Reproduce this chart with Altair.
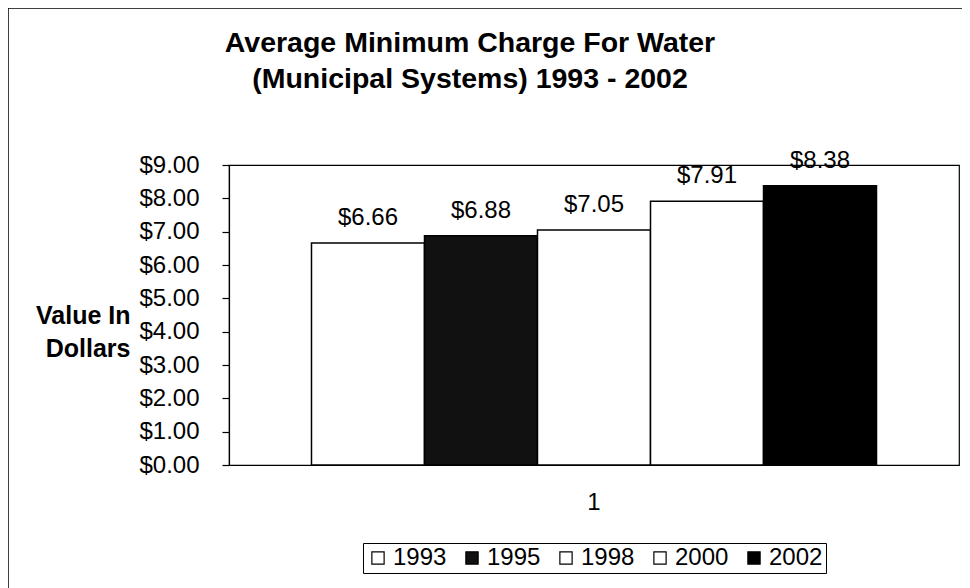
import altair as alt
import pandas as pd

years = ["1993", "1995", "1998", "2000", "2002"]
values = [6.66, 6.88, 7.05, 7.91, 8.38]
labels = ["$6.66", "$6.88", "$7.05", "$7.91", "$8.38"]
group = ["1"] * 5
colors = ["white", "#111111", "white", "white", "black"]
title_lines = ["Average Minimum Charge For Water", "(Municipal Systems) 1993 - 2002"]
y_ticks = [0, 1, 2, 3, 4, 5, 6, 7, 8, 9]

df = pd.DataFrame({"year": years, "value": values, "label": labels, "group": group})

FONT = "Liberation Sans"

x_enc = alt.X("group:N", title=None,
              scale=alt.Scale(paddingInner=0, paddingOuter=0.146),
              axis=alt.Axis(labelAngle=0, labelFontSize=24, labelPadding=25,
                            ticks=False, domain=False, labelColor="black",
                            labelFont=FONT))
xo_enc = alt.XOffset("year:N", scale=alt.Scale(paddingInner=0, paddingOuter=0),
                     sort=years)

y_enc = alt.Y("value:Q",
              scale=alt.Scale(domain=[0, 9], nice=False),
              title=["Value In", "Dollars"],
              axis=alt.Axis(values=y_ticks, tickCount=10, format="$.2f", grid=False,
                            labelOverlap=False,
                            labelFontSize=24, labelFont=FONT, labelColor="black",
                            labelPadding=23, tickSize=7, tickColor="black",
                            domainColor="black", tickWidth=1.2, domainWidth=1.2,
                            titleAngle=0, titleAlign="right", titleBaseline="middle",
                            titleX=-99, titleY=150, titleFontSize=25,
                            titleFont=FONT, titleFontWeight="bold",
                            titleColor="black", titleLineHeight=33))

bars = alt.Chart(df).mark_bar(stroke="black", strokeWidth=1.5).encode(
    x=x_enc,
    xOffset=xo_enc,
    y=y_enc,
    color=alt.Color("year:N", sort=years,
                    scale=alt.Scale(domain=years, range=colors),
                    legend=alt.Legend(title=None, orient="none", direction="horizontal",
                                      legendX=134, legendY=378,
                                      symbolType="square", symbolSize=150,
                                      symbolStrokeColor="black", symbolStrokeWidth=1.2,
                                      labelFontSize=24, labelFont=FONT,
                                      labelColor="black", labelOffset=3,
                                      columnPadding=13, padding=3,
                                      strokeColor="black", cornerRadius=0)),
)

text = alt.Chart(df).mark_text(baseline="alphabetic", dy=-18, fontSize=24,
                               font=FONT, color="black").encode(
    x=x_enc,
    xOffset=xo_enc,
    y=y_enc,
    text="label:N",
)

frame = alt.Chart(pd.DataFrame({"a": [0]})).mark_rect(
    fill=None, stroke="black", strokeWidth=1.5, clip=False
).encode(
    x=alt.value(-221), y=alt.value(-157),
    x2=alt.value(760), y2=alt.value(440),
)

chart = alt.layer(frame, bars, text).properties(
    width=730, height=300,
    autosize=alt.AutoSizeParams(type="none"),
    padding={"left": 221, "top": 157, "right": 3, "bottom": 123},
    title=alt.TitleParams(title_lines, fontSize=28.5, font=FONT, fontWeight="bold",
                          anchor="middle", dx=-124, offset=-86, lineHeight=36,
                          color="black"),
).configure_view(stroke="black", strokeWidth=1.2)

chart.save("out.html", embed_options={"renderer": "svg", "actions": False})
